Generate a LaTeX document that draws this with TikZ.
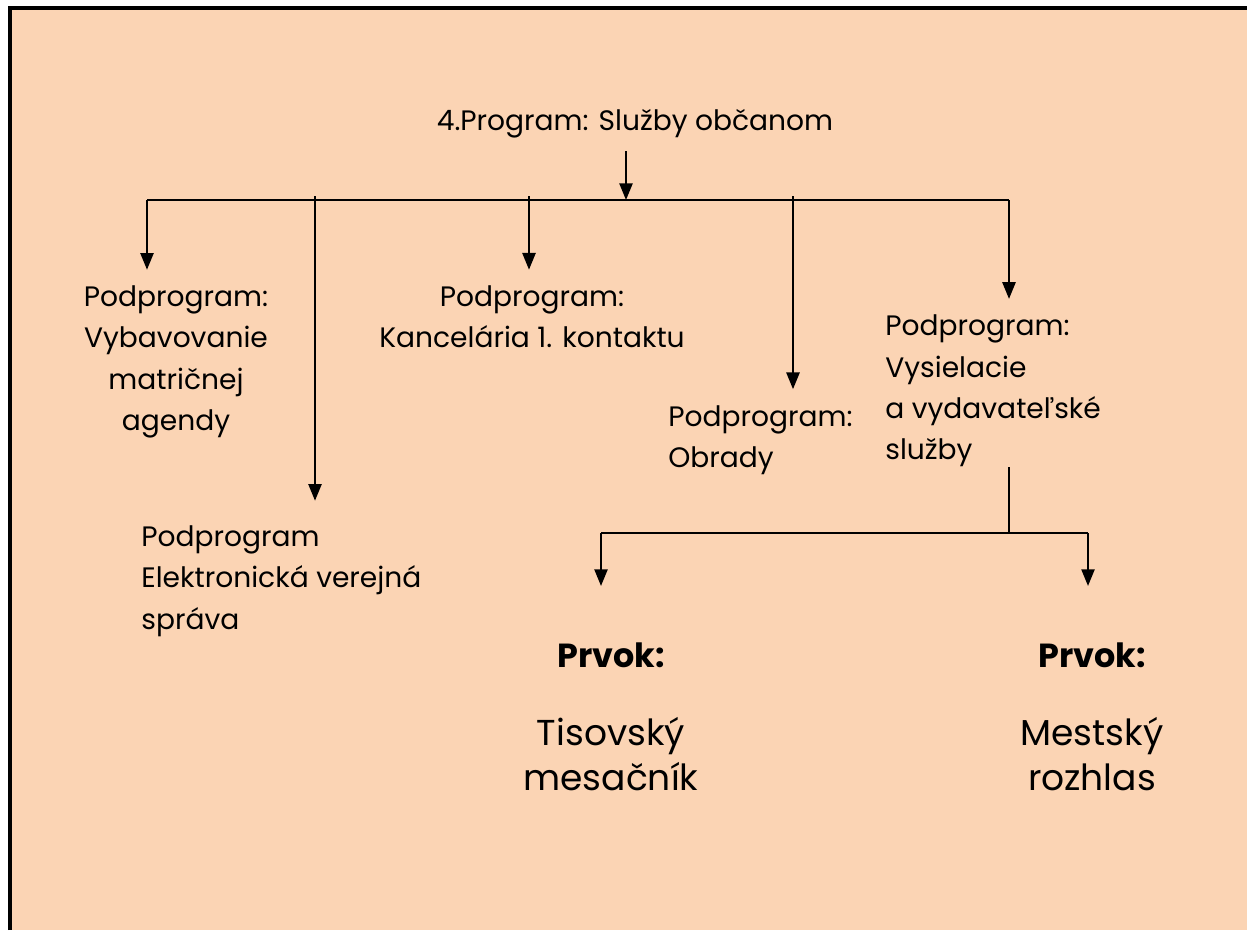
\documentclass[tikz,border=0pt]{standalone}
\usepackage{fontspec}
\setmainfont{Poppins}
\usepackage{xcolor}
\usetikzlibrary{arrows.meta}
\definecolor{peach}{HTML}{FBD4B4}

\begin{document}
\begin{tikzpicture}[x=0.02cm, y=-0.02cm,
  line/.style={line width=1.1pt},
  arr/.style={line width=1.1pt, -{Triangle[length=9.5pt,width=7.5pt]}, shorten >=9pt},
  txt/.style={font=\fontsize{16}{23.5}\selectfont, inner sep=0pt},
  prvok/.style={font=\fontsize{19}{22}\selectfont\bfseries, inner sep=0pt},
  elem/.style={font=\fontsize{20.5}{26}\selectfont, align=center, inner sep=0pt}]
\useasboundingbox (0,0) rectangle (1247,930);
% Page and frame
\fill[white] (0,0) rectangle (1247,930);
\fill[peach] (10,8) rectangle (1247,930);
\draw[line width=2.3pt] (10,930) -- (10,6);
\draw[line width=1.8pt] (8,8) -- (1247,8);

% Program and subprograms
\node[txt] (prog) at (635,124) {4.Program: Služby občanom};
\node[txt, align=center] (vyb) at (176,362) {Podprogram:\\Vybavovanie\\matričnej\\agendy};
\node[txt, align=center] (kanc) at (532,317) {Podprogram:\\Kancelária 1. kontaktu};
\node[txt, align=left, anchor=west] (obr) at (668,440) {Podprogram:\\Obrady};
\node[txt, align=left, anchor=west] (vys) at (885,391) {Podprogram:\\Vysielacie\\a vydavateľské\\služby};
\node[txt, align=left, anchor=west] (elek) at (141,581) {Podprogram\\Elektronická verejná\\správa};

% Elements
\node[prvok] (prvokA) at (611,655) {Prvok:};
\node[elem] (tis) at (611,754) {Tisovský\\mesačník};
\node[prvok] (prvokB) at (1092,655) {Prvok:};
\node[elem] (mest) at (1092,754) {Mestský\\rozhlas};

% Bus lines
\coordinate (hub) at (626,200);
\coordinate (busL) at (147,200);
\coordinate (busR) at (1009,200);
\coordinate (dropE) at (315,196);
\coordinate (dropK) at (529,196);
\coordinate (dropO) at (793,196);
\coordinate (hub2) at (1009,533);
\coordinate (subL) at (601,533);
\coordinate (subR) at (1088,533);

\draw[arr, shorten >=0pt, shorten <=7pt] (prog.south -| hub) -- (hub);
\draw[line] (busL) -- (busR);
\draw[arr] (busL) -- (busL |- vyb.north);
\draw[arr, shorten >=14pt] (dropE) -- (dropE |- elek.north);
\draw[arr] (dropK) -- (dropK |- kanc.north);
\draw[arr] (dropO) -- (dropO |- obr.north);
\draw[arr] (busR) -- (busR |- vys.north);

% Second level
\draw[line] (vys.south -| hub2) -- (hub2);
\draw[line] (subL) -- (subR);
\draw[arr, shorten >=32pt] (subL) -- (subL |- prvokA.north);
\draw[arr, shorten >=32pt] (subR) -- (subR |- prvokB.north);
\end{tikzpicture}
\end{document}
